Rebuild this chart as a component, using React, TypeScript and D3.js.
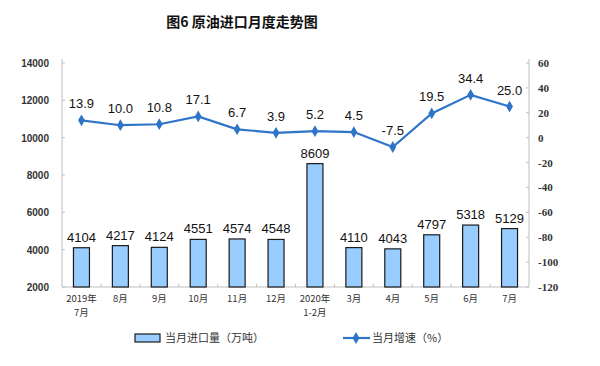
import React from "react";
import * as d3 from "d3";

const categories = ["2019年\n7月", "8月", "9月", "10月", "11月", "12月", "2020年\n1-2月", "3月", "4月", "5月", "6月", "7月"];
const imports = [4104, 4217, 4124, 4551, 4574, 4548, 8609, 4110, 4043, 4797, 5318, 5129];
const growth = [13.9, 10.0, 10.8, 17.1, 6.7, 3.9, 5.2, 4.5, -7.5, 19.5, 34.4, 25.0];
const leftTicks = [2000, 4000, 6000, 8000, 10000, 12000, 14000];
const rightTicks = [-120, -100, -80, -60, -40, -20, 0, 20, 40, 60];

const W = 600, H = 366;
const X0 = 62, X1 = 529, YT = 63, YB = 287;
const AX = "#bfbfbf";
const BLUE = "#2e75c8";

export default function App() {
  const x = d3.scaleBand<number>().domain(d3.range(categories.length)).range([X0, X1]);
  const yL = d3.scaleLinear().domain([2000, 14000]).range([YB, YT]);
  const yR = d3.scaleLinear().domain([-120, 60]).range([YB, YT]);
  const bw = 16;
  const cx = (i: number) => (x(i) as number) + x.bandwidth() / 2;
  const line = d3.line<number>().x((_, i) => cx(i)).y((d) => yR(d));
  const diamond = d3.symbol().type(d3.symbolDiamond).size(40)();

  return (
    <svg width={W} height={H} style={{ position: "absolute", left: 0, top: 0, background: "#fff" }}>
      <text x={242} y={27} textAnchor="middle" fontFamily="'Noto Sans CJK SC', sans-serif" fontSize={14} fontWeight="bold" fill="#111">图6 原油进口月度走势图</text>

      {/* axes */}
      <line x1={X0} x2={X0} y1={YT - 4} y2={YB} stroke={AX} />
      <line x1={X1} x2={X1} y1={YT - 4} y2={YB} stroke={AX} />
      <line x1={X0} x2={X1} y1={YB} y2={YB} stroke={AX} />
      {leftTicks.map((t) => (
        <g key={"l" + t}>
          <line x1={X0} x2={X0 + 3} y1={yL(t)} y2={yL(t)} stroke={AX} />
          <text x={49} y={yL(t) + 4} textAnchor="end" fontFamily="'Liberation Sans', Arial, sans-serif" fontSize={10} fontWeight="bold" fill="#333">{t}</text>
        </g>
      ))}
      {rightTicks.map((t) => (
        <g key={"r" + t}>
          <line x1={X1 - 3} x2={X1} y1={yR(t)} y2={yR(t)} stroke={AX} />
          <text x={538} y={yR(t) + 4} textAnchor="start" fontFamily="'Liberation Serif', 'Times New Roman', serif" fontSize={11} fontWeight="bold" fill="#333">{t}</text>
        </g>
      ))}
      {d3.range(1, categories.length).map((i) => (
        <line key={"xt" + i} x1={x(i) as number} x2={x(i) as number} y1={YB - 3} y2={YB} stroke={AX} />
      ))}

      {/* bars */}
      {imports.map((v, i) => (
        <g key={"b" + i}>
          <rect x={cx(i) - bw / 2} y={yL(v)} width={bw} height={YB - yL(v)} fill="#99ccff" stroke="#1a1a1a" strokeWidth={1.2} />
          <text x={cx(i)} y={yL(v) - 6} textAnchor="middle" fontFamily="'Liberation Sans', Arial, sans-serif" fontSize={13} fill="#111">{v}</text>
        </g>
      ))}

      {/* line */}
      <path d={line(growth) || ""} fill="none" stroke={BLUE} strokeWidth={2.2} />
      {growth.map((v, i) => (
        <g key={"p" + i}>
          <path d={diamond || ""} transform={`translate(${cx(i)},${yR(v)})`} fill={BLUE} />
          <text x={cx(i)} y={yR(v) - 12} textAnchor="middle" fontFamily="'Liberation Sans', Arial, sans-serif" fontSize={13} fill="#111">{v.toFixed(1)}</text>
        </g>
      ))}

      {/* x labels */}
      {categories.map((c, i) =>
        c.split("\n").map((s, j) => (
          <text key={"c" + i + "_" + j} x={cx(i)} y={302 + j * 14} textAnchor="middle" fontFamily="'Noto Sans CJK SC', sans-serif" fontSize={9.5} fill="#333">{s}</text>
        ))
      )}

      {/* legend */}
      <rect x={135} y={334} width={25} height={8} fill="#99ccff" stroke="#1a1a1a" strokeWidth={1.2} />
      <text x={165} y={342} fontFamily="'Noto Sans CJK SC', sans-serif" fontSize={11} fill="#333">当月进口量（万吨）</text>
      <line x1={343} x2={370} y1={338} y2={338} stroke={BLUE} strokeWidth={2.2} />
      <path d={diamond || ""} transform="translate(356,338)" fill={BLUE} />
      <text x={372} y={342} fontFamily="'Noto Sans CJK SC', sans-serif" fontSize={11} fill="#333">当月增速（%）</text>
    </svg>
  );
}
